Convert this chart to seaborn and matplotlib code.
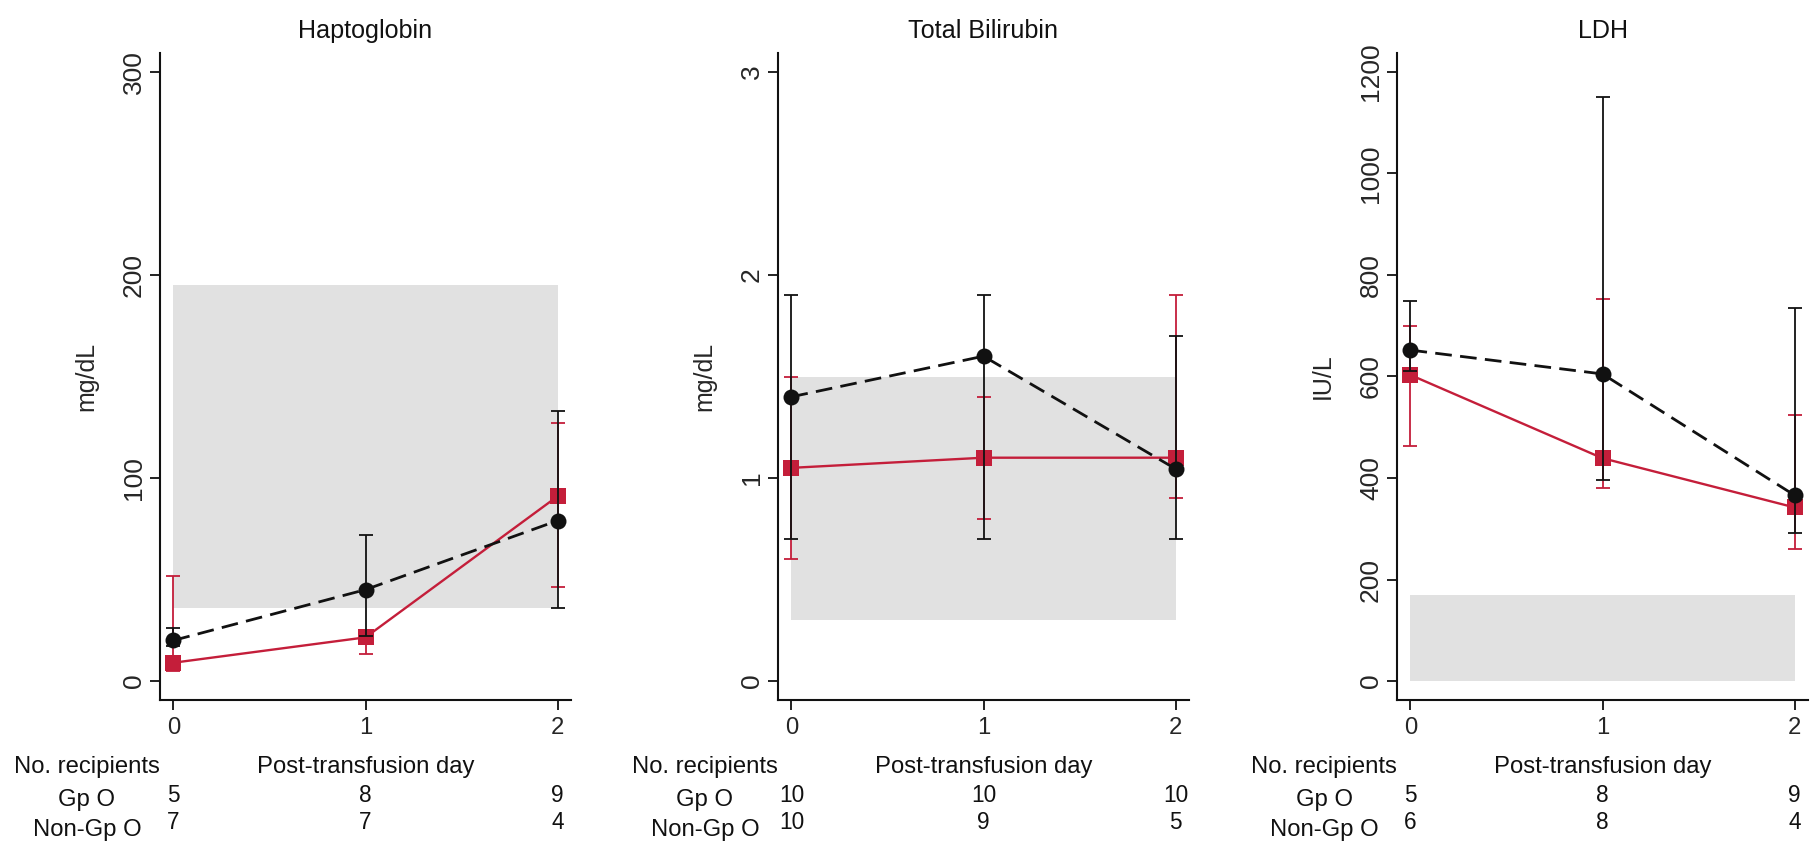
import numpy as np
import pandas as pd
import matplotlib
matplotlib.use("Agg")
import matplotlib.pyplot as plt
import seaborn as sns
from matplotlib import font_manager as fm
from matplotlib.transforms import blended_transform_factory

# ---------------- data ----------------
days = [0, 1, 2]
day_ticks = ["0", "1", "2"]

titles = ["Haptoglobin", "Total Bilirubin", "LDH"]
ylabels = ["mg/dL", "mg/dL", "IU/L"]

# Gp O recipients (black circles, dashed)
hapto_gpo = [20, 45, 79]
hapto_gpo_lo = [17, 22, 36]
hapto_gpo_hi = [26, 72, 133]
# Non-Gp O recipients (red squares, solid)
hapto_non = [9, 21.5, 91]
hapto_non_lo = [5, 13.5, 46.5]
hapto_non_hi = [51.5, 25, 127]
hapto_ref = [36, 195]
hapto_yticks = [0, 100, 200, 300]

bili_gpo = [1.40, 1.60, 1.045]
bili_gpo_lo = [0.70, 0.70, 0.70]
bili_gpo_hi = [1.90, 1.90, 1.70]
bili_non = [1.05, 1.10, 1.10]
bili_non_lo = [0.60, 0.80, 0.90]
bili_non_hi = [1.50, 1.40, 1.90]
bili_ref = [0.3, 1.5]
bili_yticks = [0, 1, 2, 3]

ldh_gpo = [652, 605, 366]
ldh_gpo_lo = [610, 396, 292]
ldh_gpo_hi = [748, 1150, 735]
ldh_non = [603, 439, 342]
ldh_non_lo = [463, 380, 261]
ldh_non_hi = [700, 752, 525]
ldh_ref = [0, 170]
ldh_yticks = [0, 200, 400, 600, 800, 1000, 1200]

n_gpo = [[5, 8, 9], [10, 10, 10], [5, 8, 9]]
n_non = [[7, 7, 4], [10, 9, 5], [6, 8, 4]]

row_labels = ["No. recipients", "Gp O", "Non-Gp O"]
xlabel = "Post-transfusion day"

# ---------------- style ----------------
sns.set_theme(style="ticks")

def has_font(name):
    try:
        fm.findfont(fm.FontProperties(family=name), fallback_to_default=False)
        return True
    except Exception:
        return False

NARROW = "Liberation Sans Narrow" if has_font("Liberation Sans Narrow") else "Liberation Sans"
narrow_scale = 1.0 if NARROW == "Liberation Sans Narrow" else 0.86
REG = "Liberation Sans"
plt.rcParams["font.family"] = [REG, "DejaVu Sans"]

RED = "#C41E3A"
BLACK = "#111111"
GREY = "#E1E1E1"

W, H = 1820, 850
fig = plt.figure(figsize=(W / 100, H / 100), dpi=100)

def fy(p):
    return 1 - p / H

spines = [160, 778, 1397]
rights = [571, 1189, 1808]
top_px, bot_px = 53, 700

panels = [
    (hapto_gpo, hapto_gpo_lo, hapto_gpo_hi, hapto_non, hapto_non_lo, hapto_non_hi, hapto_ref, hapto_yticks, 300),
    (bili_gpo, bili_gpo_lo, bili_gpo_hi, bili_non, bili_non_lo, bili_non_hi, bili_ref, bili_yticks, 3),
    (ldh_gpo, ldh_gpo_lo, ldh_gpo_hi, ldh_non, ldh_non_lo, ldh_non_hi, ldh_ref, ldh_yticks, 1200),
]

for i, (g, glo, ghi, nn, nlo, nhi, ref, yt, ymaxtick) in enumerate(panels):
    left, right = spines[i], rights[i]
    ax = fig.add_axes([left / W, fy(bot_px), (right - left) / W, (bot_px - top_px) / H])
    # y limits from pixel geometry: 0 at 681px, max tick at 72px
    ppu = (681 - 72) / ymaxtick
    ax.set_ylim(-(bot_px - 681) / ppu, (681 - top_px) / ppu)
    ax.set_xlim(-0.07, 2.07)

    # reference range band
    ax.fill_between(days, [ref[0]] * 3, [ref[1]] * 3, color=GREY, lw=0, zorder=0)

    g = np.array(g); nn = np.array(nn)
    ax.errorbar(days, nn, yerr=[nn - np.array(nlo), np.array(nhi) - nn], fmt="none",
                ecolor=RED, elinewidth=1.3, capsize=5, capthick=1.3, zorder=2)
    df_n = pd.DataFrame({"day": days, "value": nn})
    sns.lineplot(data=df_n, x="day", y="value", ax=ax, color=RED, lw=1.7,
                 marker="s", markersize=11, markeredgewidth=0, errorbar=None, zorder=3)
    ax.errorbar(days, g, yerr=[g - np.array(glo), np.array(ghi) - g], fmt="none",
                ecolor=BLACK, elinewidth=1.3, capsize=5, capthick=1.3, zorder=4)
    df_g = pd.DataFrame({"day": days, "value": g})
    sns.lineplot(data=df_g, x="day", y="value", ax=ax, color=BLACK, lw=2.0,
                 linestyle=(0, (6, 3)), marker="o", markersize=11.5, markeredgewidth=0,
                 errorbar=None, zorder=5)

    sns.despine(ax=ax)
    for s in ["left", "bottom"]:
        ax.spines[s].set_linewidth(1.5)
        ax.spines[s].set_color(BLACK)
    ax.set_facecolor("white")

    ax.set_yticks(yt)
    ax.set_yticklabels([str(v) for v in yt], rotation=90, va="center",
                       fontsize=19, family=REG)
    ax.set_xticks(days)
    ax.set_xticklabels(day_ticks, fontsize=20 * narrow_scale, family=NARROW)
    ax.tick_params(axis="both", length=7, width=1.3, color=BLACK)
    ax.tick_params(axis="y", pad=3)
    ax.tick_params(axis="x", pad=5)

    ax.set_xlabel("")
    ax.set_ylabel(ylabels[i], fontsize=18, family=REG)
    ax.yaxis.set_label_coords(-62 / (right - left), 0.5)

    # title
    fig.text((left + right) / 2 / W, fy(38), titles[i], ha="center", va="baseline",
             fontsize=21 * narrow_scale, family=NARROW, color=BLACK)

    # risk table below
    tr = blended_transform_factory(ax.transData, fig.transFigure)
    lab_x = (left - 73) / W
    fig.text(lab_x, fy(773), row_labels[0], ha="center", va="baseline",
             fontsize=20 * narrow_scale, family=NARROW, color=BLACK)
    fig.text(lab_x, fy(806), row_labels[1], ha="center", va="baseline",
             fontsize=20 * narrow_scale, family=NARROW, color=BLACK)
    fig.text(lab_x, fy(836), row_labels[2], ha="center", va="baseline",
             fontsize=20 * narrow_scale, family=NARROW, color=BLACK)
    ax.text(1, fy(773), xlabel, transform=tr, ha="center", va="baseline",
            fontsize=20 * narrow_scale, family=NARROW, color=BLACK)
    for d, a, b in zip(days, n_gpo[i], n_non[i]):
        ax.text(d, fy(802), str(a), transform=tr, ha="center", va="baseline",
                fontsize=19 * narrow_scale, family=NARROW, color=BLACK)
        ax.text(d, fy(829), str(b), transform=tr, ha="center", va="baseline",
                fontsize=19 * narrow_scale, family=NARROW, color=BLACK)

fig.savefig("out.png", dpi=100, facecolor="white")
